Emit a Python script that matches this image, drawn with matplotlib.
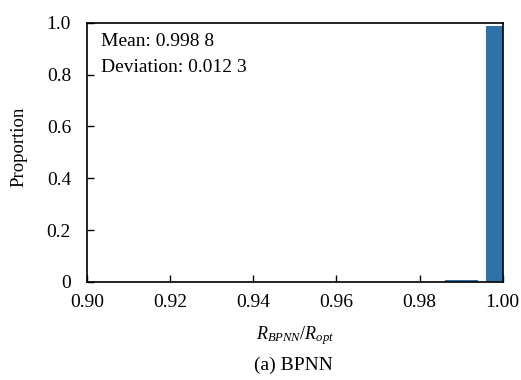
import numpy as np
import matplotlib
matplotlib.use("Agg")
import matplotlib.pyplot as plt

plt.rcParams['font.family'] = ['Liberation Serif', 'DejaVu Serif']
plt.rcParams['mathtext.fontset'] = 'custom'
plt.rcParams['mathtext.rm'] = 'Liberation Serif'
plt.rcParams['mathtext.it'] = 'Liberation Serif:italic'

# histogram bins (centres) and proportions
bin_centres = [0.99, 1.00]
proportions = [0.008, 0.988]
xticks = [0.90, 0.92, 0.94, 0.96, 0.98, 1.00]
xticklabels = ["0.90", "0.92", "0.94", "0.96", "0.98", "1.00"]
yticks = [0, 0.2, 0.4, 0.6, 0.8, 1.0]
yticklabels = ["0", "0.2", "0.4", "0.6", "0.8", "1.0"]
mean_txt = "Mean: 0.998 8"
dev_txt = "Deviation: 0.012 3"

fig = plt.figure(figsize=(5.21, 3.80), dpi=100)
ax = fig.add_axes([0.167, 0.258, 0.798, 0.682])

ax.bar(bin_centres, proportions, width=0.008, color='#2e72a8', zorder=2)

ax.set_xlim(0.90, 1.00)
ax.set_ylim(0, 1.0)
ax.set_xticks(xticks)
ax.set_xticklabels(xticklabels)
ax.set_yticks(yticks)
ax.set_yticklabels(yticklabels)
ax.tick_params(direction='in', length=5, width=1, labelsize=14)
ax.tick_params(axis='x', pad=8.5)
ax.tick_params(axis='y', pad=11.5)
for s in ax.spines.values():
    s.set_linewidth(1.2)

fig.text(19/521, 1-147/380, "Proportion", rotation=90, ha='center', va='center', fontsize=13.5)
fig.text(295/521, 1-336/380, r"$R_{BPNN}/R_{opt}$", ha='center', va='center', fontsize=13)

ax.text(101/521, 1-42/380, mean_txt, transform=fig.transFigure, fontsize=14, va='center')
ax.text(101/521, 1-67/380, dev_txt, transform=fig.transFigure, fontsize=14, va='center')

fig.text(293/521, 1-365/380, "(a) BPNN", ha='center', va='center', fontsize=14)

fig.savefig("out.png", dpi=100)
